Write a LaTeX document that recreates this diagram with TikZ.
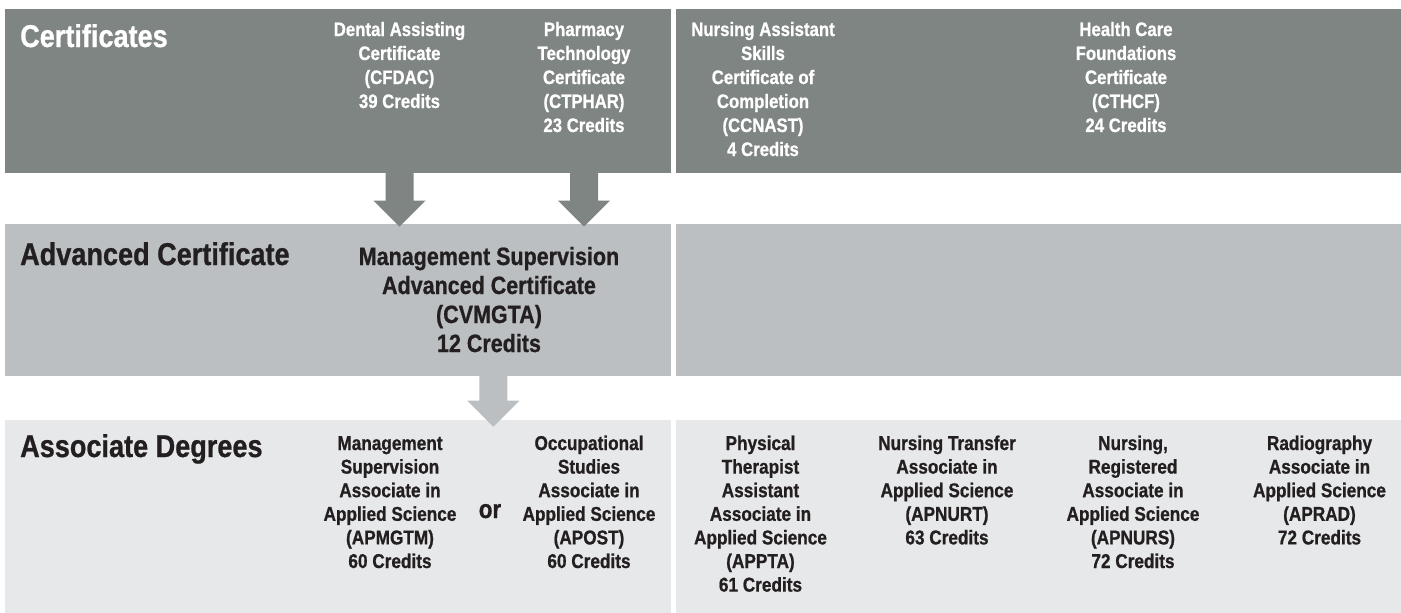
\documentclass[tikz,border=0pt]{standalone}
\usepackage{fontspec}
\newfontfamily\cond[FakeStretch=0.86, BoldFeatures={FakeBold=0.8}]{Liberation Sans}
\usetikzlibrary{calc}
\definecolor{darkpanel}{RGB}{127,133,131}
\definecolor{midpanel}{RGB}{187,191,193}
\definecolor{lightpanel}{RGB}{231,232,234}
\definecolor{ink}{RGB}{35,31,32}
\newcommand{\colstack}[1]{\begin{tabular}[t]{@{}c@{}}#1\end{tabular}}
\newcommand{\blockarrow}[3]{\fill[#1] ($(#2)+(-14,-1)$) -- ($(#2)+(14,-1)$) -- ($(#3)+(14,-26)$) -- ($(#3)+(26,-26)$) -- (#3) -- ($(#3)+(-26,-26)$) -- ($(#3)+(-14,-26)$) -- cycle;}
\tikzset{
  panel/.style={draw=none, inner sep=0pt, outer sep=0pt, anchor=north west},
  hdr/.style={font=\cond\bfseries\fontsize{31.5}{36}\selectfont, anchor=base west, inner sep=0pt},
  toptxt/.style={font=\cond\bfseries\fontsize{19.5}{24}\selectfont, text=white, anchor=base, inner sep=0pt},
  midtxt/.style={font=\cond\bfseries\fontsize{25}{29}\selectfont, text=ink, anchor=base, inner sep=0pt},
  bottxt/.style={font=\cond\bfseries\fontsize{20}{23.6}\selectfont, text=ink, anchor=base, inner sep=0pt}
}
\begin{document}
\begin{tikzpicture}[x=1pt,y=-1pt]
\useasboundingbox[fill=white] (0,0) rectangle (1401,613);
% panels
\node[panel, fill=darkpanel, minimum width=665.5pt, minimum height=163.7pt] (certL) at (5,9) {};
\node[panel, fill=darkpanel, minimum width=725pt, minimum height=163.7pt] (certR) at (676,9) {};
\node[panel, fill=midpanel, minimum width=665.5pt, minimum height=151.5pt] (advL) at (5,224) {};
\node[panel, fill=midpanel, minimum width=725pt, minimum height=151.5pt] (advR) at (676,224) {};
\node[panel, fill=lightpanel, minimum width=665.5pt, minimum height=192.5pt] (assocL) at (5,420) {};
\node[panel, fill=lightpanel, minimum width=725pt, minimum height=192.5pt] (assocR) at (676,420) {};
% headers
\node[hdr, text=white] (hcert) at (20,47) {Certificates};
\node[hdr, text=ink] (hadv) at (20,265) {Advanced Certificate};
\node[hdr, text=ink] (hassoc) at (20,457) {Associate Degrees};
% certificates
\node[toptxt] (dental) at (399.5,36) {\colstack{Dental Assisting\\Certificate\\(CFDAC)\\39 Credits}};
\node[toptxt] (pharm) at (584,36) {\colstack{Pharmacy\\Technology\\Certificate\\(CTPHAR)\\23 Credits}};
\node[toptxt] (nurseasst) at (763,36) {\colstack{Nursing Assistant\\Skills\\Certificate of\\Completion\\(CCNAST)\\4 Credits}};
\node[toptxt] (hcf) at (1126,36) {\colstack{Health Care\\Foundations\\Certificate\\(CTHCF)\\24 Credits}};
% advanced
\node[midtxt] (mgmtadv) at (489,265) {\colstack{Management Supervision\\Advanced Certificate\\(CVMGTA)\\12 Credits}};
% associate
\node[bottxt] (apmgtm) at (390,450) {\colstack{Management\\Supervision\\Associate in\\Applied Science\\(APMGTM)\\60 Credits}};
\node[font=\cond\bfseries\fontsize{26}{30}\selectfont, text=ink, anchor=base, inner sep=0pt] (or) at (490,518) {or};
\node[bottxt] (apost) at (589,450) {\colstack{Occupational\\Studies\\Associate in\\Applied Science\\(APOST)\\60 Credits}};
\node[bottxt] (appta) at (760.5,450) {\colstack{Physical\\Therapist\\Assistant\\Associate in\\Applied Science\\(APPTA)\\61 Credits}};
\node[bottxt] (apnurt) at (947,450) {\colstack{Nursing Transfer\\Associate in\\Applied Science\\(APNURT)\\63 Credits}};
\node[bottxt] (apnurs) at (1133,450) {\colstack{Nursing,\\Registered\\Associate in\\Applied Science\\(APNURS)\\72 Credits}};
\node[bottxt] (aprad) at (1319.5,450) {\colstack{Radiography\\Associate in\\Applied Science\\(APRAD)\\72 Credits}};
% arrows
\coordinate (a1s) at (dental.base |- certL.south);
\coordinate (a1t) at ($(a1s |- advL.north)+(0,2.7)$);
\coordinate (a2s) at (pharm.base |- certL.south);
\coordinate (a2t) at ($(a2s |- advL.north)+(0,2.7)$);
\coordinate (a3s) at ($(mgmtadv.base |- advL.south)+(4.3,0)$);
\coordinate (a3t) at ($(a3s |- assocL.north)+(0,6.7)$);
\blockarrow{darkpanel}{a1s}{a1t}
\blockarrow{darkpanel}{a2s}{a2t}
\blockarrow{midpanel}{a3s}{a3t}
\end{tikzpicture}
\end{document}
